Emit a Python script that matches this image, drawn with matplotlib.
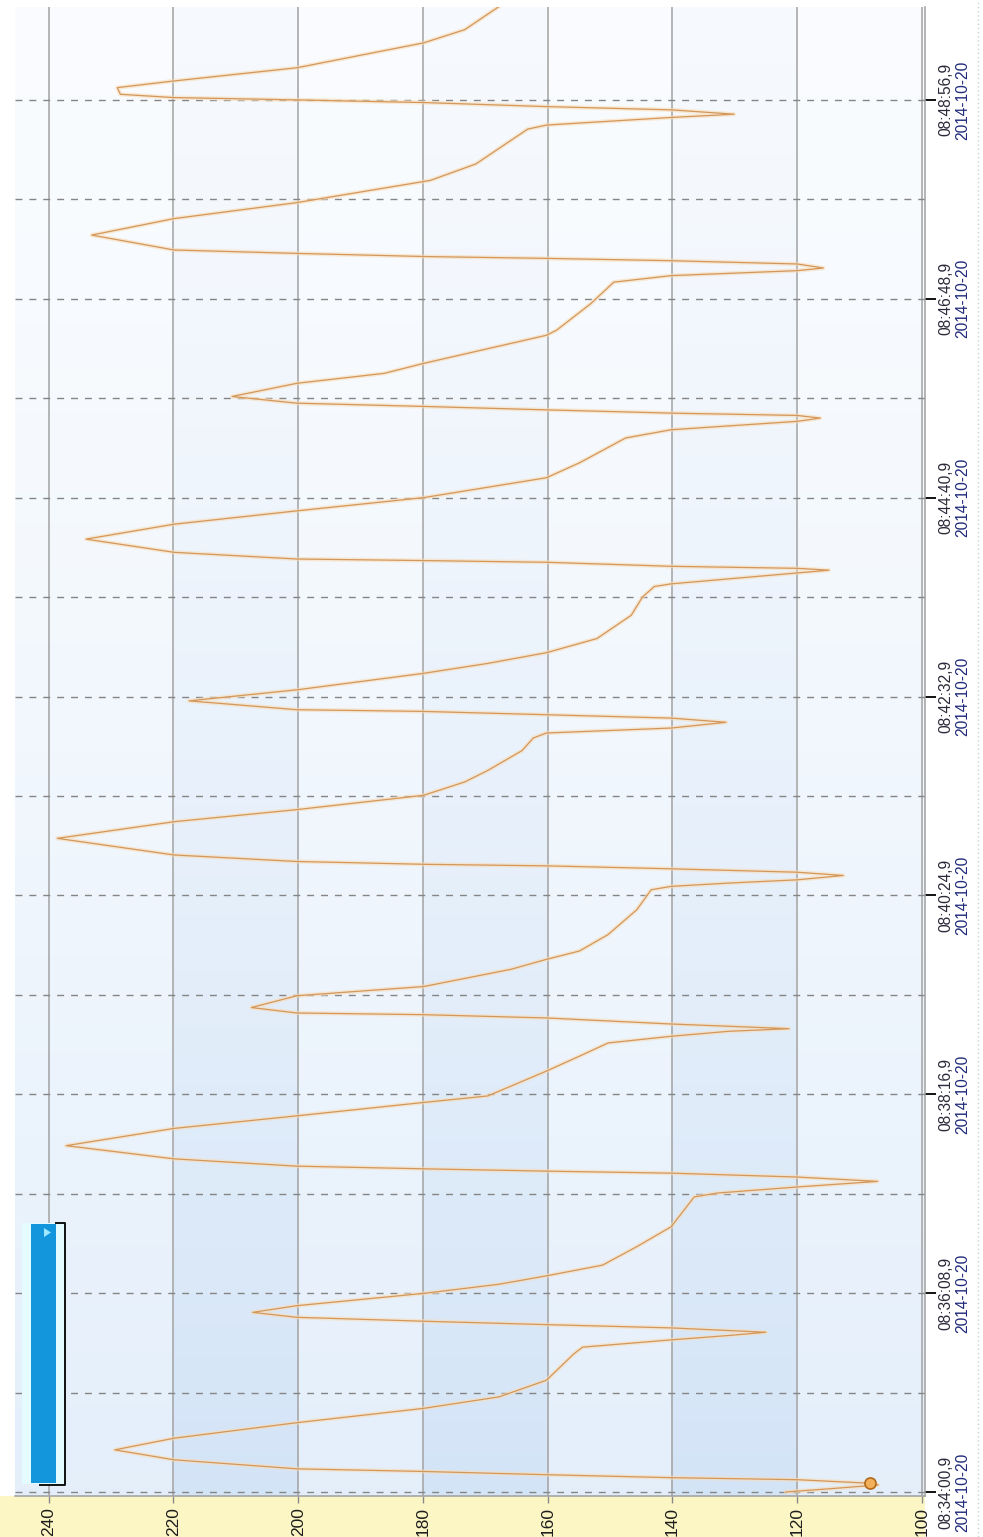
import numpy as np
import matplotlib
matplotlib.use("Agg")
import matplotlib.pyplot as plt
from matplotlib.patches import Rectangle, Polygon
from matplotlib.lines import Line2D
import matplotlib.transforms as mtransforms
from matplotlib import font_manager

# ---------------- data ----------------
elapsed_s = [0, 2.0, 4.5, 5.6, 7.9, 9.2, 11.1, 13.2, 14.9, 20.7, 27.1, 34.6, 44.6, 53.8,
             61.2, 71.9, 88.9, 93.2, 97.9, 100.7, 102.8, 105.6, 107.7, 109.9, 112.4, 115.6,
             119.9, 127.8, 133.7, 139.1, 146.0, 157.9, 170.7, 189.9, 192.4, 196.3, 199.9,
             202.7, 205.2, 206.5, 208.0, 209.7, 214.4, 222.9, 234.0, 242.1, 250.7, 254.9,
             270.9, 280.5, 289.0, 293.3, 296.5, 298.2, 301.2, 305.1, 307.2, 308.3, 311.8,
             319.4, 325.3, 336.4, 342.8, 348.2, 358.8, 374.8, 387.6, 389.8, 391.9, 394.0,
             396.8, 398.9, 401.1, 403.0, 404.0, 405.8, 410.0, 420.7, 431.4, 439.2, 448.4,
             457.0, 464.4, 477.2, 485.3, 488.5, 491.7, 495.4, 498.1, 500.3, 502.4, 503.5,
             509.2, 516.3, 526.9, 533.3, 540.2, 549.3, 564.3, 576.0, 582.8, 584.5, 591.5,
             593.3, 594.5, 595.8, 598.4, 599.5, 600.5, 604.8, 613.3, 622.9, 631.5, 640.0,
             652.8, 662.4, 678.4, 683.7, 689.1, 691.2, 692.9, 694.4, 696.5, 698.7, 700.8,
             705.1, 713.6, 720.0, 726.4, 744.5, 747.7, 764.8, 778.7, 782.9, 786.1, 787.8,
             790.4, 792.5, 794.0, 795.2, 797.2, 799.4, 809.0, 819.6, 829.9, 844.2, 854.8,
             877.2, 879.8, 884.7, 886.8, 889.6, 891.7, 894.3, 896.0, 897.5, 899.6, 903.9,
             908.2, 916.7, 932.7, 941.2, 956.1]
values = [121.8, 115.0, 107.0, 108.3, 120.0, 140.2, 160.2, 179.9, 200.2, 219.9, 229.4, 219.9,
          200.2, 179.9, 167.8, 160.2, 155.8, 154.4, 140.2, 131.0, 125.0, 140.2, 160.2, 179.9,
          200.2, 207.3, 200.2, 179.9, 167.8, 160.2, 151.2, 145.7, 140.2, 136.5, 132.8, 120.0,
          107.1, 120.0, 140.2, 160.2, 179.9, 200.2, 219.9, 237.2, 219.9, 200.2, 179.9, 169.6,
          160.2, 154.9, 150.3, 140.2, 131.0, 121.3, 140.2, 160.2, 179.9, 200.2, 207.5, 200.2,
          179.9, 165.9, 160.2, 154.9, 150.3, 145.7, 143.4, 140.2, 131.0, 120.0, 112.6, 120.0,
          140.2, 160.2, 179.9, 200.2, 219.9, 238.6, 219.9, 200.2, 179.9, 173.3, 169.6, 164.1,
          162.3, 160.2, 140.2, 131.4, 140.2, 160.2, 179.9, 200.2, 217.5, 200.2, 179.9, 169.6,
          160.2, 152.1, 146.6, 144.8, 142.9, 140.2, 120.0, 114.9, 120.0, 140.2, 160.2, 179.9,
          200.2, 219.9, 234.0, 219.9, 200.2, 179.9, 160.2, 154.9, 147.5, 140.2, 120.0, 116.3,
          120.0, 140.2, 160.2, 179.9, 200.2, 210.6, 200.2, 186.2, 179.9, 160.2, 158.6, 153.1,
          149.4, 140.2, 120.0, 115.8, 120.0, 140.2, 160.2, 179.9, 200.2, 219.9, 233.1, 219.9,
          200.2, 178.8, 171.5, 163.2, 160.2, 140.2, 130.1, 140.2, 160.2, 179.9, 200.2, 219.9,
          228.5, 229.0, 219.9, 200.2, 179.9, 173.3, 167.8]
start_marker_index = 3

value_ticks = [240, 220, 200, 180, 160, 140, 120, 100]
time_ticks_s = [0, 128, 256, 384, 512, 640, 768, 896]
time_tick_labels = ["08:34:00,9", "08:36:08,9", "08:38:16,9", "08:40:24,9",
                    "08:42:32,9", "08:44:40,9", "08:46:48,9", "08:48:56,9"]
date_label = "2014-10-20"
minor_time_step_s = 64

# ---------------- fonts ----------------
available = {f.name for f in font_manager.fontManager.ttflist}
narrow = "Liberation Sans Narrow" if "Liberation Sans Narrow" in available else "Liberation Sans"
narrow_size = 13 if narrow == "Liberation Sans Narrow" else 11.2

# ---------------- figure ----------------
W, H = 983, 1537
fig = plt.figure(figsize=(W / 100, H / 100), dpi=100)
fig.patch.set_facecolor("white")

def fx(px):
    return px / W

def fy(py):
    return 1 - py / H

# yellow strip under the plot
fig.add_artist(Rectangle((0, 0), fx(925), fy(1496), transform=fig.transFigure,
                         facecolor="#fcf5c4", edgecolor="none", zorder=0))
# dotted line at far right
fig.add_artist(Line2D([fx(978), fx(978)], [0, 1], transform=fig.transFigure,
                      color="#cfcfcf", lw=1, ls=(0, (1, 2)), zorder=0))

xmin, xmax = 99.5, 245.4
ymin, ymax = -2.6, 955.8
ax = fig.add_axes([fx(15), fy(1496), fx(925) - fx(15), fy(7) - fy(1496)])
ax.set_facecolor("white")

# background gradient with alternating bands
vals = np.linspace(xmin, xmax, 700)
times = np.linspace(ymin, ymax, 300)
V, T = np.meshgrid(vals, times)
f = np.clip((ymax - T) / (ymax - ymin), 0, 1) ** 1.4
k = np.floor((240 - V) / 20)
dark = (np.mod(k, 2) == 1) & (V <= 240) & (V >= 100)
light_top = np.array([0.978, 0.988, 0.998])
light_bot = np.array([0.895, 0.937, 0.984])
dark_top = np.array([0.966, 0.979, 0.996])
dark_bot = np.array([0.830, 0.895, 0.968])
lt = light_top + (light_bot - light_top) * f[..., None]
dk = dark_top + (dark_bot - dark_top) * f[..., None]
img = np.where(dark[..., None], dk, lt)
ax.imshow(img, extent=[xmin, xmax, ymin, ymax], origin="lower", aspect="auto",
          interpolation="bilinear", zorder=0)

for v in value_ticks:
    ax.axvline(v, color="#a2a2a2", lw=1.1, zorder=1)
for t in range(0, 897, minor_time_step_s):
    ax.axhline(t, color="#858585", lw=1.0, ls=(0, (5, 5)), zorder=1)

# the series
ax.plot(values, elapsed_s, color="#f8dcb8", lw=3.0, alpha=0.6, zorder=2,
        solid_joinstyle="round")
ax.plot(values, elapsed_s, color="#d4975a", lw=0.9, zorder=3)
ax.plot([values[start_marker_index]], [elapsed_s[start_marker_index]], "o", ms=8,
        mfc="#f2b05a", mec="#b06a1a", mew=1.2, zorder=4)

ax.set_xlim(xmax, xmin)
ax.set_ylim(ymin, ymax)

for s in ["top", "left"]:
    ax.spines[s].set_visible(False)
for s in ["bottom", "right"]:
    ax.spines[s].set_color("#a0a0a0")
    ax.spines[s].set_linewidth(1.1)

ax.set_xticks(value_ticks)
ax.set_xticklabels([str(v) for v in value_ticks], rotation=90, fontsize=12.5,
                   family=["Liberation Sans"], color="#1e1e1e")
ax.tick_params(axis="x", direction="out", length=5, width=1, color="#8a8a8a", pad=3)

ax.yaxis.tick_right()
ax.set_yticks(time_ticks_s)
ax.set_yticklabels([])
ax.tick_params(axis="y", direction="out", length=8, width=1.4, color="#111111")

trans = mtransforms.blended_transform_factory(fig.transFigure, ax.transData)
for t, lab in zip(time_ticks_s, time_tick_labels):
    ax.text(fx(946), t, lab, transform=trans, rotation=90, ha="center", va="center",
            fontsize=narrow_size, family=[narrow], color="#2a2a3a", clip_on=False)
    ax.text(fx(963), t, date_label, transform=trans, rotation=90, ha="center", va="center",
            fontsize=narrow_size, family=[narrow], color="#1f2a7a", clip_on=False)

# scrollbar widget
fig.add_artist(Rectangle((fx(22), fy(1484)), fx(43), fy(1223) - fy(1484),
                         transform=fig.transFigure, facecolor="#e4fbff",
                         edgecolor="none", zorder=5))
fig.add_artist(Rectangle((fx(31), fy(1483)), fx(25), fy(1224) - fy(1483),
                         transform=fig.transFigure, facecolor="#1496dc",
                         edgecolor="none", zorder=6))
fig.add_artist(Line2D([fx(40), fx(65), fx(65), fx(56)],
                      [fy(1485), fy(1485), fy(1223), fy(1223)],
                      transform=fig.transFigure, color="#111111", lw=1.4, zorder=7))
fig.add_artist(Polygon([[fx(44), fy(1228)], [fx(44), fy(1237)], [fx(51), fy(1232.5)]],
                       closed=True, transform=fig.transFigure, facecolor="#9fe8ff",
                       edgecolor="none", zorder=7))

fig.savefig("out.png", dpi=100)
